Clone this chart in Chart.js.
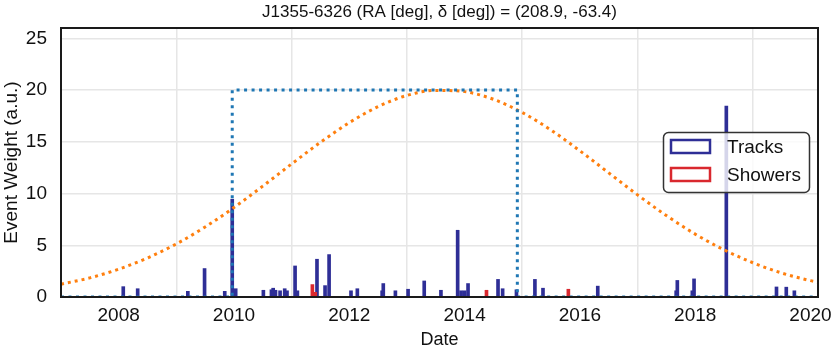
<!DOCTYPE html>
<html>
<head>
<meta charset="utf-8">
<title>J1355-6326 event weights</title>
<script src="https://cdn.jsdelivr.net/npm/chart.js@4.4.1/dist/chart.umd.min.js"></script>
<style>
    html, body { margin: 0; padding: 0; background: #fff; }
    #wrap { width: 831px; height: 354px; }
</style>
</head>
<body>
<div id="wrap"><canvas id="eventChart" width="831" height="354"></canvas></div>
<script>
// Data (dates in decimal years, weights in a.u.)
const trackDates = [
    2008.08, 2008.33, 2009.20, 2009.49, 2009.84, 2009.97, 2010.03, 2010.51, 2010.65, 2010.68,
    2010.72, 2010.80, 2010.88, 2010.92, 2011.06, 2011.10, 2011.44, 2011.58, 2011.65, 2012.03,
    2012.14, 2012.57, 2012.59, 2012.80, 2013.02, 2013.30, 2013.59, 2013.88, 2013.94, 2014.00,
    2014.06, 2014.58, 2014.66, 2014.90, 2015.22, 2015.36, 2016.31, 2017.67, 2017.69, 2017.95,
    2017.98, 2018.54, 2019.41, 2019.58, 2019.72
];
const trackWeights = [
    1.0, 0.8, 0.55, 2.75, 0.55, 9.45, 0.8, 0.65, 0.7, 0.85,
    0.65, 0.6, 0.8, 0.6, 3.0, 0.6, 3.65, 1.1, 4.1, 0.6,
    0.8, 0.6, 1.3, 0.6, 0.75, 1.55, 0.65, 6.45, 0.6, 0.6,
    1.3, 1.7, 0.8, 0.7, 1.7, 0.85, 1.05, 0.6, 1.6, 0.6,
    1.75, 18.45, 0.97, 0.95, 0.6
];
const showerDates = [2011.36, 2011.41, 2014.38, 2015.80];
const showerWeights = [1.2, 0.45, 0.65, 0.75];

// Observation window (dotted blue box)
const windowDates = [2007.0, 2009.97, 2009.97, 2014.915, 2014.915, 2020.13];
const windowWeights = [0, 0, 20, 20, 0, 0];

// Flare profile (dotted orange curve)
const profileDates = [
    2007.0, 2007.5, 2008.0, 2008.5, 2009.0, 2009.5, 2010.0, 2010.5, 2011.0, 2011.5,
    2012.0, 2012.5, 2013.0, 2013.5, 2014.0, 2014.5, 2015.0, 2015.5, 2016.0, 2016.5,
    2017.0, 2017.5, 2018.0, 2018.5, 2019.0, 2019.5, 2020.0, 2020.13
];
const profileWeights = [
    1.24, 1.85, 2.69, 3.77, 5.13, 6.77, 8.65, 10.72, 12.86, 14.95,
    16.85, 18.40, 19.48, 19.97, 19.85, 19.11, 17.83, 16.13, 14.13, 12.00,
    9.87, 7.87, 6.08, 4.56, 3.31, 2.32, 1.58, 1.43
];

// Axes
const xTickYears = [2008, 2010, 2012, 2014, 2016, 2018, 2020];
const yTickValues = [0, 5, 10, 15, 20, 25];

const TITLE = 'J1355-6326 (RA [deg], \u03b4 [deg]) = (208.9, -63.4)';
const FONT = '"Liberation Sans", Arial, Helvetica, sans-serif';
const TRACK_COLOR = '#2e2e96';
const SHOWER_COLOR = '#d9282e';

const toPoints = (xs, ys) => xs.map((x, i) => ({ x: x, y: ys[i] }));

// Title centred over the plot, black frame, boxed legend in the upper right
const framePlugin = {
    id: 'frameAndLegend',
    afterDatasetsDraw(chart) {
        const ctx = chart.ctx;
        const a = chart.chartArea;

        ctx.save();
        ctx.fillStyle = '#111';
        ctx.font = '17px ' + FONT;
        ctx.textAlign = 'center';
        ctx.textBaseline = 'middle';
        ctx.fillText(TITLE, (a.left + a.right) / 2, 12);

        ctx.strokeStyle = '#1a1a1a';
        ctx.lineWidth = 2;
        ctx.strokeRect(a.left, a.top, a.right - a.left, a.bottom - a.top);

        // legend box
        const bx = 663.5, by = 132.5, bw = 146, bh = 60, r = 5;
        ctx.beginPath();
        ctx.moveTo(bx + r, by);
        ctx.arcTo(bx + bw, by, bx + bw, by + bh, r);
        ctx.arcTo(bx + bw, by + bh, bx, by + bh, r);
        ctx.arcTo(bx, by + bh, bx, by, r);
        ctx.arcTo(bx, by, bx + bw, by, r);
        ctx.closePath();
        ctx.fillStyle = 'rgba(255,255,255,0.8)';
        ctx.fill();
        ctx.strokeStyle = '#333';
        ctx.lineWidth = 1.5;
        ctx.stroke();

        const items = chart.data.datasets.filter(ds => ds.type === 'bar');
        items.forEach((ds, i) => {
            const rowY = 147 + i * 28;
            ctx.strokeStyle = ds.backgroundColor;
            ctx.lineWidth = 2.5;
            ctx.strokeRect(671, rowY - 7, 39, 13);
            ctx.fillStyle = '#111';
            ctx.font = '19px ' + FONT;
            ctx.textAlign = 'left';
            ctx.textBaseline = 'middle';
            ctx.fillText(ds.label, 727, rowY + 1);
        });
        ctx.restore();
    }
};

let ctx = document.getElementById('eventChart');

new Chart(ctx, {
    type: 'bar',
    data: {
        datasets: [
            {
                type: 'line',
                label: 'window',
                data: toPoints(windowDates, windowWeights),
                borderColor: '#1f77b4',
                borderWidth: 3,
                borderDash: [3, 4.5],
                pointRadius: 0,
                fill: false,
                order: 0
            },
            {
                type: 'line',
                label: 'profile',
                data: toPoints(profileDates, profileWeights),
                borderColor: '#ff7f0e',
                borderWidth: 3,
                borderDash: [3, 4],
                cubicInterpolationMode: 'monotone',
                pointRadius: 0,
                fill: false,
                order: 0
            },
            {
                type: 'bar',
                label: 'Tracks',
                data: toPoints(trackDates, trackWeights),
                backgroundColor: TRACK_COLOR,
                barThickness: 3,
                grouped: false,
                order: 2
            },
            {
                type: 'bar',
                label: 'Showers',
                data: toPoints(showerDates, showerWeights),
                backgroundColor: SHOWER_COLOR,
                barThickness: 3,
                grouped: false,
                order: 1
            }
        ]
    },
    options: {
        responsive: false,
        animation: false,
        devicePixelRatio: 1,
        layout: { padding: { left: 0, right: 13, top: 28, bottom: 0 } },
        plugins: {
            legend: { display: false },
            tooltip: { enabled: false },
            title: { display: false }
        },
        scales: {
            x: {
                type: 'linear',
                min: 2007.0,
                max: 2020.13,
                offset: false,
                border: { display: false },
                grid: { color: '#e6e6e6', lineWidth: 1.5, drawTicks: false },
                ticks: {
                    color: '#111',
                    padding: 7,
                    font: { family: FONT, size: 19 },
                    maxRotation: 0,
                    callback: value => String(value)
                },
                afterBuildTicks: scale => { scale.ticks = xTickYears.map(v => ({ value: v })); },
                afterFit: scale => {
                    scale.height = 57;
                    scale.paddingLeft = 0;
                    scale.paddingRight = 0;
                },
                title: {
                    display: true,
                    text: 'Date',
                    color: '#111',
                    font: { family: FONT, size: 18, lineHeight: 1.2 },
                    padding: { top: 0, bottom: 3 }
                }
            },
            y: {
                type: 'linear',
                min: 0,
                max: 26,
                border: { display: false },
                grid: { color: '#e6e6e6', lineWidth: 1.5, drawTicks: false },
                ticks: {
                    color: '#111',
                    padding: 14,
                    font: { family: FONT, size: 19 },
                    callback: value => String(value)
                },
                afterBuildTicks: scale => { scale.ticks = yTickValues.map(v => ({ value: v })); },
                afterFit: scale => {
                    scale.width = 61;
                    scale.paddingTop = 0;
                    scale.paddingBottom = 0;
                },
                title: {
                    display: true,
                    text: 'Event Weight (a.u.)',
                    color: '#111',
                    font: { family: FONT, size: 19, lineHeight: 1.2 },
                    padding: { top: 0, bottom: 0 }
                }
            }
        }
    },
    plugins: [framePlugin]
});
</script>
</body>
</html>
